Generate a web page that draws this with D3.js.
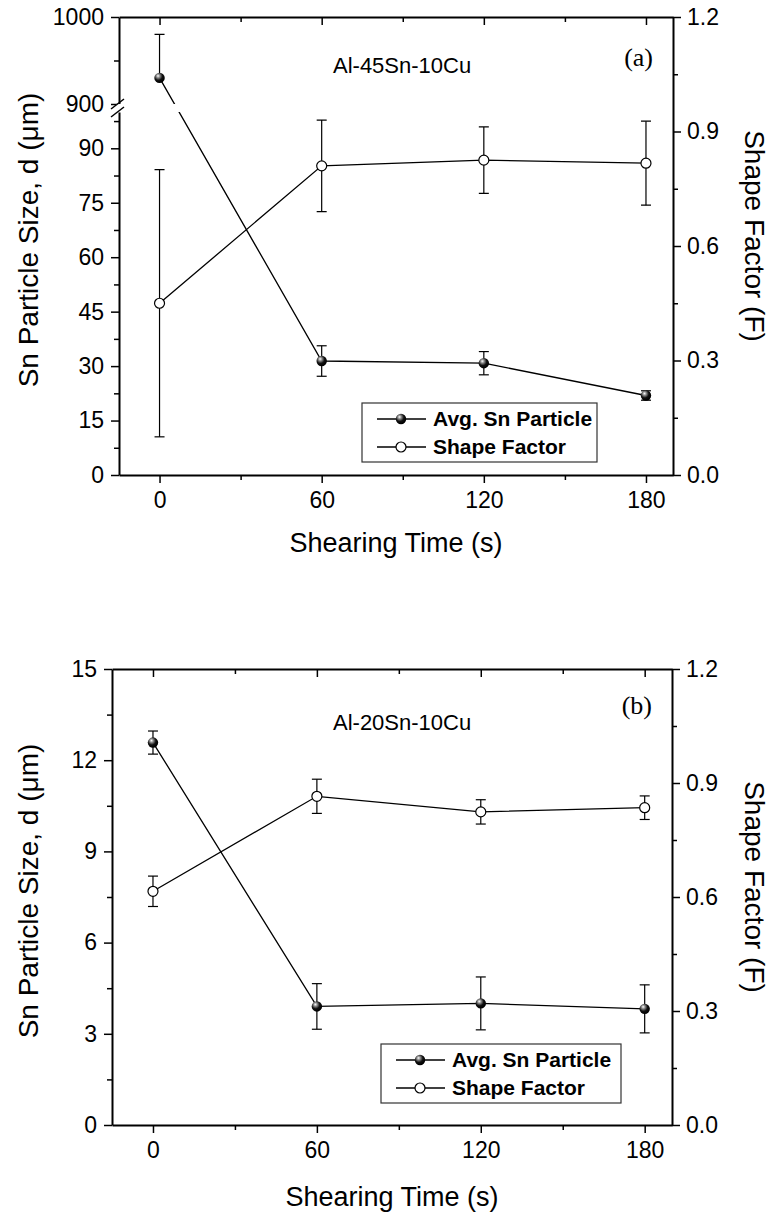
<!DOCTYPE html>
<html>
<head>
<meta charset="utf-8">
<script src="https://cdn.jsdelivr.net/npm/d3@7"></script>
<style>
body { margin: 0; background: #fff; }
text { font-family: 'Liberation Sans', Arial, sans-serif; fill: #000; }
</style>
</head>
<body>
<svg id="chart" width="772" height="1215"></svg>
<script>
'use strict'

// shearing time (s)
const times = [0, 60, 120, 180]
const xMajor = [0, 60, 120, 180]
const xMinor = [30, 90, 150]

// (a) Al-45Sn-10Cu
const sizeA = [930, 31.4, 30.8, 21.9]
const sizeErrA = [50, 4.2, 3.2, 1.3]
const shapeA = [0.45, 0.81, 0.825, 0.817]
const shapeErrA = [0.35, 0.12, 0.087, 0.11]

// (b) Al-20Sn-10Cu
const sizeB = [12.58, 3.9, 4.0, 3.82]
const sizeErrB = [0.38, 0.75, 0.87, 0.79]
const shapeB = [0.615, 0.865, 0.824, 0.835]
const shapeErrB = [0.04, 0.045, 0.032, 0.031]

// tick labels
const leftTicksALow = [0, 15, 30, 45, 60, 75, 90]
const leftMinorALow = [7.5, 22.5, 37.5, 52.5, 67.5, 82.5, 97.5]
const leftTicksAUp = [900, 1000]
const leftMinorAUp = [950]
const leftTicksB = [0, 3, 6, 9, 12, 15]
const leftMinorB = [1.5, 4.5, 7.5, 10.5, 13.5]
const rightTicks = [0, 0.3, 0.6, 0.9, 1.2]
const rightMinor = [0.15, 0.45, 0.75, 1.05]

const TICK_FONT = 23

const svg = d3.select('#chart')
svg.append('rect').attr('width', 772).attr('height', 1215).attr('fill', '#fff')

const defs = svg.append('defs')
const grad = defs.append('radialGradient')
	.attr('id', 'ball')
	.attr('cx', '40%').attr('cy', '35%').attr('r', '60%')
	.attr('fx', '35%').attr('fy', '30%')
grad.append('stop').attr('offset', '0%').attr('stop-color', '#fff')
grad.append('stop').attr('offset', '30%').attr('stop-color', '#888')
grad.append('stop').attr('offset', '65%').attr('stop-color', '#111')
grad.append('stop').attr('offset', '100%').attr('stop-color', '#000')

function styleAxis(g) {
	g.select('.domain').attr('stroke-width', 2).attr('stroke', '#000')
	g.selectAll('.tick line').attr('stroke-width', 1.5).attr('stroke', '#000')
	g.selectAll('.tick text').style('font-size', TICK_FONT + 'px').attr('fill', '#000')
}

function minorAxis(g, axis) {
	g.call(axis)
	g.select('.domain').remove()
	g.selectAll('.tick line').attr('stroke-width', 1.5).attr('stroke', '#000')
}

function drawPanel(p) {
	const g = svg.append('g')
	const x = d3.scaleLinear().domain([-15, 190]).range([p.left, p.right])

	// bottom axis
	const xb = g.append('g').attr('transform', 'translate(0,' + p.bottom + ')')
	xb.call(d3.axisBottom(x).tickValues(xMajor).tickSize(8).tickSizeOuter(0).tickPadding(9))
	styleAxis(xb)
	minorAxis(g.append('g').attr('transform', 'translate(0,' + p.bottom + ')'),
		d3.axisBottom(x).tickValues(xMinor).tickSize(5).tickFormat(''))

	// top axis, ticks inward
	const xt = g.append('g').attr('transform', 'translate(0,' + p.top + ')')
	xt.call(d3.axisBottom(x).tickValues(xMajor).tickSize(8).tickSizeOuter(0).tickFormat(''))
	styleAxis(xt)
	minorAxis(g.append('g').attr('transform', 'translate(0,' + p.top + ')'),
		d3.axisBottom(x).tickValues(xMinor).tickSize(5).tickFormat(''))

	// left axis (one or two segments)
	p.leftSegments.forEach(s => {
		const ya = g.append('g').attr('transform', 'translate(' + p.left + ',0)')
		ya.call(d3.axisLeft(s.scale).tickValues(s.major).tickSize(8).tickSizeOuter(0).tickPadding(7)
			.tickFormat(d3.format('d')))
		styleAxis(ya)
		minorAxis(g.append('g').attr('transform', 'translate(' + p.left + ',0)'),
			d3.axisLeft(s.scale).tickValues(s.minor).tickSize(5).tickFormat(''))
	})

	// right axis
	const yr = g.append('g').attr('transform', 'translate(' + p.right + ',0)')
	yr.call(d3.axisRight(p.yRight).tickValues(rightTicks).tickSize(8).tickSizeOuter(0).tickPadding(6)
		.tickFormat(d3.format('.1f')))
	styleAxis(yr)
	minorAxis(g.append('g').attr('transform', 'translate(' + p.right + ',0)'),
		d3.axisRight(p.yRight).tickValues(rightMinor).tickSize(5).tickFormat(''))

	// axis break marks
	if (p.breakBand) {
		const b = p.breakBand
		g.append('rect')
			.attr('x', p.left - 3).attr('y', b[0]).attr('width', 6).attr('height', b[1] - b[0])
			.attr('fill', '#fff')
		;[b[0], b[1]].forEach(yy => {
			g.append('line')
				.attr('x1', p.left - 8).attr('y1', yy + 5)
				.attr('x2', p.left + 5).attr('y2', yy - 5)
				.attr('stroke', '#000').attr('stroke-width', 1.5)
		})
	}

	// titles
	g.append('text')
		.attr('x', (p.left + p.right) / 2).attr('y', p.bottom + p.xTitleOff)
		.attr('dy', '0.35em').attr('text-anchor', 'middle')
		.style('font-size', '27px')
		.text('Shearing Time (s)')
	g.append('text')
		.attr('transform', 'translate(28,' + ((p.top + p.bottom) / 2 - 6) + ') rotate(-90)')
		.attr('dy', '0.35em').attr('text-anchor', 'middle')
		.style('font-size', '28px')
		.text('Sn Particle Size, d (\u03bcm)')
	g.append('text')
		.attr('transform', 'translate(755,' + ((p.top + p.bottom) / 2 - 10) + ') rotate(90)')
		.attr('dy', '0.35em').attr('text-anchor', 'middle')
		.style('font-size', '28px')
		.text('Shape Factor (F)')

	g.append('text')
		.attr('x', 333).attr('y', p.top + p.alloyOff)
		.attr('dy', '0.35em')
		.style('font-size', '22px')
		.text(p.alloy)
	g.append('text')
		.attr('x', p.right - 20).attr('y', p.top + p.tagOff)
		.attr('dy', '0.35em').attr('text-anchor', 'end')
		.style('font-family', "'Liberation Serif', 'Times New Roman', serif")
		.style('font-size', '26px')
		.text(p.tag)

	// data clip (skips the axis break band)
	const clipId = 'clip' + p.tag.replace(/\W/g, '')
	const clip = defs.append('clipPath').attr('id', clipId)
	if (p.breakBand) {
		clip.append('rect').attr('x', p.left).attr('y', p.top).attr('width', p.right - p.left).attr('height', p.breakBand[0] - p.top)
		clip.append('rect').attr('x', p.left).attr('y', p.breakBand[1]).attr('width', p.right - p.left).attr('height', p.bottom - p.breakBand[1])
	} else {
		clip.append('rect').attr('x', p.left).attr('y', p.top).attr('width', p.right - p.left).attr('height', p.bottom - p.top)
	}

	const data = g.append('g').attr('clip-path', 'url(#' + clipId + ')')

	function series(vals, errs, yScale, inBreak) {
		const pts = times.map((t, i) => ({ t: t, v: vals[i], e: errs[i] }))
		data.append('path')
			.datum(pts)
			.attr('fill', 'none').attr('stroke', '#000').attr('stroke-width', 1.3)
			.attr('d', d3.line().x(d => x(d.t)).y(d => yScale(d.v)))
		pts.forEach(d => {
			const cx = x(d.t)
			const ends = [d.v + d.e]
			if (!inBreak(d.v - d.e)) ends.push(d.v - d.e)
			ends.forEach(ev => {
				data.append('line')
					.attr('x1', cx).attr('x2', cx)
					.attr('y1', yScale(d.v)).attr('y2', yScale(ev))
					.attr('stroke', '#000').attr('stroke-width', 1.2)
				data.append('line')
					.attr('x1', cx - 5).attr('x2', cx + 5)
					.attr('y1', yScale(ev)).attr('y2', yScale(ev))
					.attr('stroke', '#000').attr('stroke-width', 1.2)
			})
		})
		return pts
	}

	const sizePts = series(p.size, p.sizeErr, p.yLeft, p.inBreak)
	const shapePts = series(p.shape, p.shapeErr, p.yRight, () => false)

	g.selectAll(null).data(shapePts).enter().append('circle')
		.attr('cx', d => x(d.t)).attr('cy', d => p.yRight(d.v)).attr('r', 5)
		.attr('fill', '#fff').attr('stroke', '#000').attr('stroke-width', 1.2)
	g.selectAll(null).data(sizePts).enter().append('circle')
		.attr('cx', d => x(d.t)).attr('cy', d => p.yLeft(d.v)).attr('r', 5.2)
		.attr('fill', 'url(#ball)')

	// legend
	const lg = g.append('g').attr('transform', 'translate(' + p.legend[0] + ',' + p.legend[1] + ')')
	lg.append('rect').attr('width', p.legend[2]).attr('height', 59)
		.attr('fill', '#fff').attr('stroke', '#333').attr('stroke-width', 1.2)
	const entries = [
		{ name: 'Avg. Sn Particle', ball: true },
		{ name: 'Shape Factor', ball: false }
	]
	entries.forEach((en, i) => {
		const yy = 16 + i * 28
		lg.append('line').attr('x1', 15).attr('x2', 64).attr('y1', yy).attr('y2', yy)
			.attr('stroke', '#000').attr('stroke-width', 1.3)
		if (en.ball)
			lg.append('circle').attr('cx', 39).attr('cy', yy).attr('r', 5.2).attr('fill', 'url(#ball)')
		else
			lg.append('circle').attr('cx', 39).attr('cy', yy).attr('r', 5)
				.attr('fill', '#fff').attr('stroke', '#000').attr('stroke-width', 1.2)
		lg.append('text').attr('x', 71).attr('y', yy).attr('dy', '0.35em')
			.style('font-size', '21px').style('font-weight', 'bold')
			.text(en.name)
	})
}

// panel (a): broken left axis
const yUpA = d3.scaleLinear().domain([900, 1000]).range([104, 17])
const yLowA = d3.scaleLinear().domain([0, 100]).range([475, 112])
drawPanel({
	left: 119, right: 673, top: 17, bottom: 475,
	leftSegments: [
		{ scale: yUpA, major: leftTicksAUp, minor: leftMinorAUp },
		{ scale: yLowA, major: leftTicksALow, minor: leftMinorALow }
	],
	yLeft: v => v >= 900 ? yUpA(v) : yLowA(v),
	inBreak: v => v > 100 && v < 900,
	breakBand: [104, 112],
	yRight: d3.scaleLinear().domain([0, 1.2]).range([475, 17]),
	size: sizeA, sizeErr: sizeErrA, shape: shapeA, shapeErr: shapeErrA,
	alloy: 'Al-45Sn-10Cu', tag: '(a)',
	alloyOff: 48, tagOff: 40, xTitleOff: 68,
	legend: [362, 403, 235]
})

// panel (b)
const yB = d3.scaleLinear().domain([0, 15]).range([1125, 669])
drawPanel({
	left: 112, right: 672, top: 669, bottom: 1125,
	leftSegments: [{ scale: yB, major: leftTicksB, minor: leftMinorB }],
	yLeft: yB,
	inBreak: () => false,
	breakBand: null,
	yRight: d3.scaleLinear().domain([0, 1.2]).range([1125, 669]),
	size: sizeB, sizeErr: sizeErrB, shape: shapeB, shapeErr: shapeErrB,
	alloy: 'Al-20Sn-10Cu', tag: '(b)',
	alloyOff: 53, tagOff: 36, xTitleOff: 72,
	legend: [381, 1044, 240]
})
</script>
</body>
</html>
